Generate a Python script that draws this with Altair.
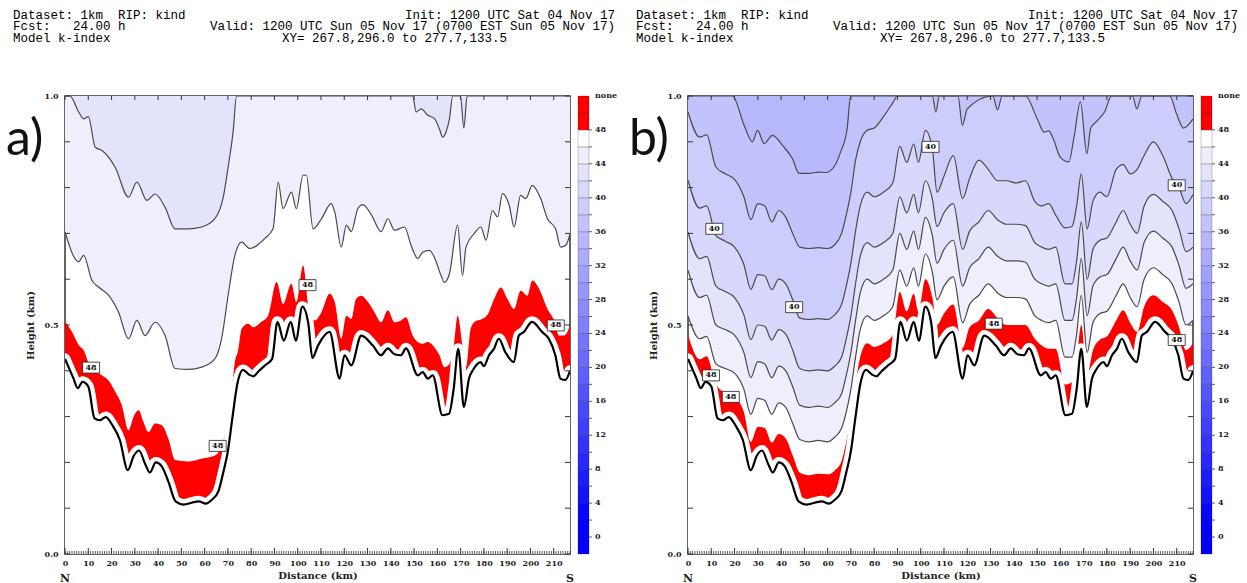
import altair as alt
import pandas as pd

# ---------------- data ----------------
# terrain height (km) along the cross-section (shared by both panels)
TER_KM = [0, 3.5, 5.5, 7.5, 10, 12.7, 15, 17.5, 20.5, 23.5, 27, 29.5, 31.8, 34.5, 36.5, 39, 41.5, 44.5, 47.5, 51,
          54.5, 57.5, 60.5, 63, 66, 68, 70, 72, 74, 76.5, 79, 81, 83, 86, 89, 91.3, 94, 97, 99.2, 102,
          104.5, 106.3, 108.7, 113.7, 118, 120.1, 123, 127.3, 132.3, 135.8, 138.7, 141.6, 144.4, 146.5, 151.6, 153.7, 155.9, 158, 162.2, 165,
          167, 169, 171.4, 173.6, 175.7, 178.6, 180, 182.2, 184.3, 186.4, 189.3, 192.9, 195, 197.2, 200.7, 205, 207.9, 210.7, 212.9, 215, 217]
TER_H = [0.426, 0.385, 0.362, 0.376, 0.366, 0.296, 0.292, 0.299, 0.280, 0.250, 0.183, 0.214, 0.226, 0.196, 0.178, 0.200, 0.192, 0.157, 0.115, 0.108,
         0.112, 0.115, 0.110, 0.118, 0.138, 0.178, 0.225, 0.300, 0.370, 0.402, 0.392, 0.388, 0.398, 0.412, 0.426, 0.507, 0.466, 0.507, 0.466, 0.540,
         0.505, 0.428, 0.455, 0.485, 0.383, 0.434, 0.412, 0.477, 0.455, 0.434, 0.449, 0.436, 0.434, 0.449, 0.390, 0.397, 0.383, 0.390, 0.303, 0.306,
         0.360, 0.448, 0.321, 0.383, 0.405, 0.419, 0.410, 0.434, 0.448, 0.470, 0.440, 0.419, 0.477, 0.485, 0.507, 0.485, 0.470, 0.434, 0.383, 0.380, 0.400]

# panel a: k-index 48 contour (top of the red band)
A48_KM = [0, 3, 6, 8, 10.7, 13, 15.9, 18.7, 21.6, 24.4, 27.3, 29.5, 31.6, 33.7, 35.9, 38.7, 41.6, 44.4, 47.3, 53,
          58.7, 64.4, 68.7, 70.9, 73, 74.4, 75.9, 78.7, 81, 84.4, 87.3, 90.9, 93.7, 97.3, 99.4, 102.3, 105.2, 107.3, 110.2, 113.7,
          115.9, 118.7, 120.9, 123, 125.1, 127.3, 130.2, 133, 135.9, 138.7, 141.6, 144.4, 146.5, 149.4, 151.6, 153.7, 155.9, 158, 160.9, 163,
          165.2, 167.3, 168.7, 170.8, 172.3, 174.4, 176.6, 178.7, 181.6, 184.4, 187.3, 190.1, 193, 195.8, 198.7, 200.8, 203.7, 207.3, 210.2, 212.3,
          214.5, 217]
A48_H = [0.508, 0.485, 0.455, 0.445, 0.41, 0.40, 0.39, 0.379, 0.354, 0.325, 0.27, 0.30, 0.314, 0.288, 0.266, 0.285, 0.281, 0.252, 0.205, 0.202,
         0.208, 0.215, 0.259, 0.318, 0.419, 0.445, 0.492, 0.503, 0.495, 0.507, 0.521, 0.594, 0.546, 0.59, 0.55, 0.63, 0.52, 0.51, 0.528, 0.568,
         0.55, 0.47, 0.52, 0.513, 0.557, 0.564, 0.55, 0.528, 0.506, 0.532, 0.506, 0.51, 0.517, 0.477, 0.463, 0.459, 0.463, 0.456, 0.434, 0.408,
         0.415, 0.463, 0.52, 0.456, 0.408, 0.494, 0.509, 0.512, 0.523, 0.557, 0.582, 0.557, 0.535, 0.575, 0.564, 0.597, 0.579, 0.535, 0.51, 0.477,
         0.477, 0.499]
# panel a: 46 contour
A46_KM = [0, 5.9, 8, 11.6, 14.4, 18.7, 23, 27.3, 30.9, 34.4, 38.7, 43, 47.3, 53, 58.7, 64.4, 67.3, 70.1, 73, 75.9,
          79.4, 85.9, 89.4, 91.6, 93.7, 97.3, 99.4, 102.3, 103.7, 106.6, 110.2, 114.4, 116, 118.7, 120.9, 123, 125.9, 128, 131.6, 135.9,
          138.7, 141.6, 145.9, 148.7, 151.6, 153.7, 156.6, 158.7, 161.6, 163, 165.2, 168.7, 170.8, 172.3, 175.9, 178.7, 180.9, 183.7, 185.9, 188,
          190.9, 193, 195.8, 198, 200.8, 204.4, 207.3, 210.8, 213, 215.2, 217]
A46_H = [0.703, 0.638, 0.652, 0.597, 0.583, 0.565, 0.528, 0.470, 0.510, 0.477, 0.506, 0.477, 0.405, 0.403, 0.408, 0.426, 0.470, 0.565, 0.652, 0.681,
         0.667, 0.689, 0.710, 0.812, 0.754, 0.790, 0.754, 0.827, 0.827, 0.710, 0.732, 0.765, 0.745, 0.670, 0.718, 0.704, 0.755, 0.763, 0.741, 0.704,
         0.732, 0.707, 0.714, 0.674, 0.645, 0.659, 0.663, 0.648, 0.608, 0.593, 0.612, 0.718, 0.608, 0.670, 0.700, 0.714, 0.685, 0.750, 0.736, 0.787,
         0.761, 0.714, 0.783, 0.776, 0.805, 0.776, 0.732, 0.710, 0.670, 0.674, 0.699]
# panel a: 44 contour (1.0 where it leaves the section top)
A44_KM = [0, 2.1, 5.9, 8, 10, 13, 15.9, 21.6, 27.3, 30.9, 35.2, 38.7, 43, 47.3, 53, 58.7, 64.4, 68, 70.1, 72.3,
          73.7, 149.4, 150.9, 153, 155.9, 158.7, 160.9, 162.3, 163.7, 165.2, 166.6, 169.9, 171.4, 172.8, 217]
A44_H = [1.0, 1.0, 0.965, 0.950, 0.955, 0.888, 0.881, 0.844, 0.779, 0.812, 0.772, 0.786, 0.757, 0.710, 0.710, 0.714, 0.732, 0.779, 0.845, 0.925,
         1.0, 1.0, 0.965, 0.972, 0.958, 0.951, 0.928, 0.910, 0.921, 0.95, 1.0, 1.0, 0.93, 1.0, 1.0]

# panel b contours on a common distance grid
B_KM = [0, 5, 8, 12, 16, 20, 24, 27, 30, 33, 36, 39, 42, 45, 48, 52, 56, 60, 63, 66,
        68, 70, 72, 74, 77, 80, 84, 88, 91, 94, 97, 99, 102, 105, 107, 110, 114, 118, 121, 125,
        129, 133, 137, 141, 145, 149, 152, 155, 158, 162, 165, 167, 169, 171.5, 174, 177, 180, 184, 187, 190,
        193, 196, 200, 204, 208, 211, 214, 217]
B48_H = [0.478, 0.425, 0.432, 0.37, 0.352, 0.342, 0.31, 0.245, 0.278, 0.275, 0.243, 0.262, 0.252, 0.215, 0.178, 0.172, 0.175, 0.174, 0.182, 0.203,
         0.245, 0.295, 0.37, 0.43, 0.46, 0.452, 0.46, 0.478, 0.572, 0.53, 0.568, 0.53, 0.6, 0.56, 0.5, 0.525, 0.545, 0.45, 0.495, 0.51,
         0.535, 0.515, 0.5, 0.5, 0.5, 0.47, 0.455, 0.448, 0.448, 0.37, 0.375, 0.425, 0.5, 0.39, 0.445, 0.468, 0.475, 0.51, 0.532, 0.505,
         0.485, 0.54, 0.565, 0.55, 0.532, 0.495, 0.445, 0.46]
B46_H = [0.52, 0.47, 0.475, 0.415, 0.405, 0.395, 0.36, 0.305, 0.34, 0.335, 0.305, 0.33, 0.32, 0.285, 0.25, 0.245, 0.248, 0.245, 0.255, 0.275,
         0.31, 0.36, 0.43, 0.49, 0.52, 0.51, 0.52, 0.54, 0.62, 0.585, 0.625, 0.585, 0.655, 0.615, 0.555, 0.585, 0.605, 0.505, 0.545, 0.565,
         0.59, 0.57, 0.56, 0.56, 0.557, 0.52, 0.51, 0.505, 0.51, 0.43, 0.43, 0.48, 0.565, 0.44, 0.505, 0.525, 0.53, 0.565, 0.59, 0.56,
         0.54, 0.6, 0.625, 0.61, 0.59, 0.55, 0.5, 0.51]
B44_H = [0.62, 0.56, 0.565, 0.5, 0.49, 0.478, 0.44, 0.385, 0.42, 0.415, 0.385, 0.41, 0.4, 0.365, 0.325, 0.32, 0.323, 0.32, 0.33, 0.35,
         0.39, 0.44, 0.51, 0.57, 0.6, 0.59, 0.6, 0.62, 0.7, 0.665, 0.705, 0.665, 0.735, 0.695, 0.635, 0.665, 0.685, 0.585, 0.625, 0.645,
         0.67, 0.65, 0.64, 0.64, 0.637, 0.6, 0.59, 0.585, 0.59, 0.51, 0.51, 0.56, 0.645, 0.52, 0.585, 0.605, 0.61, 0.645, 0.67, 0.64,
         0.62, 0.68, 0.705, 0.69, 0.67, 0.63, 0.58, 0.59]
B42_H = [0.703, 0.645, 0.65, 0.585, 0.573, 0.56, 0.522, 0.468, 0.5, 0.497, 0.467, 0.49, 0.48, 0.445, 0.405, 0.4, 0.402, 0.4, 0.41, 0.43,
         0.47, 0.52, 0.59, 0.65, 0.68, 0.67, 0.68, 0.7, 0.78, 0.745, 0.785, 0.745, 0.815, 0.775, 0.715, 0.745, 0.765, 0.665, 0.705, 0.725,
         0.75, 0.73, 0.72, 0.72, 0.717, 0.68, 0.67, 0.665, 0.67, 0.59, 0.59, 0.64, 0.725, 0.6, 0.665, 0.685, 0.69, 0.725, 0.75, 0.72,
         0.7, 0.76, 0.785, 0.77, 0.75, 0.71, 0.66, 0.67]
B40_H = [0.816, 0.755, 0.76, 0.695, 0.683, 0.67, 0.632, 0.578, 0.61, 0.607, 0.577, 0.6, 0.59, 0.555, 0.515, 0.512, 0.514, 0.512, 0.522, 0.545,
         0.585, 0.635, 0.705, 0.76, 0.79, 0.78, 0.79, 0.81, 0.89, 0.855, 0.895, 0.855, 0.925, 0.885, 0.79, 0.825, 0.87, 0.776, 0.82, 0.86,
         0.84, 0.815, 0.815, 0.81, 0.815, 0.77, 0.76, 0.765, 0.74, 0.712, 0.715, 0.76, 0.83, 0.71, 0.77, 0.79, 0.78, 0.84, 0.85, 0.83,
         0.84, 0.87, 0.9, 0.87, 0.82, 0.8, 0.765, 0.785]
B38_KM = [0, 5, 8, 12, 16, 20, 24, 27, 30, 33, 36, 39, 42, 45, 48, 52, 56, 60, 63, 66,
          68, 70, 72, 74, 77, 80, 84, 88, 90, 105, 106.5, 108, 116, 117.9, 120, 131, 133, 135, 145, 150,
          153, 155, 157, 160, 163.6, 166, 168.6, 171.4, 173, 176, 179, 182, 191, 192.9, 195, 207, 210, 212.9, 215, 217]
B38_H = [0.965, 0.91, 0.915, 0.845, 0.83, 0.818, 0.78, 0.73, 0.765, 0.76, 0.725, 0.75, 0.735, 0.7, 0.67, 0.667, 0.669, 0.667, 0.675, 0.7,
         0.74, 0.79, 0.86, 0.9, 0.925, 0.93, 0.955, 0.985, 1.0, 1.0, 0.965, 1.0, 1.0, 0.936, 0.972, 1.0, 0.97, 1.0, 1.0, 0.951,
         0.921, 0.924, 0.906, 0.866, 0.856, 0.914, 0.987, 0.874, 0.929, 0.947, 0.965, 1.0, 1.0, 0.972, 1.0, 1.0, 0.96, 0.93, 0.937, 0.95]
B36_KM = [0, 19.1, 24.1, 27.7, 29.9, 32.7, 36.3, 40.6, 44.9, 47.7, 52, 56.3, 59.1, 62.7, 65.6, 68.4, 69.9, 217]
B36_H = [1.0, 1.0, 0.936, 0.900, 0.925, 0.896, 0.914, 0.892, 0.863, 0.831, 0.831, 0.834, 0.833, 0.845, 0.878, 0.929, 1.0, 1.0]

# contour label boxes
A_LAB_KM = [11.2, 65.6, 104.2, 210.9]
A_LAB_H = [0.407, 0.236, 0.587, 0.499]
A_LAB_T = ["48", "48", "48", "48"]
B_LAB_KM = [11.3, 45.6, 104.2, 210.0, 9.9, 18.4, 131.4, 210.0]
B_LAB_H = [0.710, 0.539, 0.889, 0.805, 0.390, 0.343, 0.503, 0.467]
B_LAB_T = ["40", "40", "40", "40", "48", "48", "48", "48"]

# colour bar
CB_LOW = list(range(-2, 52, 2))          # lower bound of each colour box
CB_LABELS = list(range(0, 49, 4))
X_TICK_LABELS = list(range(0, 211, 10))
Y_TICK_LABELS = [0.0, 0.5, 1.0]
X_MINOR = list(range(0, 218, 1))
X_MAJOR = list(range(0, 218, 10))
Y_MINOR = [i / 10 for i in range(0, 11)]

NB = "\u00a0"
HEAD_L = ["Dataset: 1km" + NB * 2 + "RIP: kind", "Fcst:" + NB * 3 + "24.00 h", NB + "Model k-index"]
HEAD_INIT = "Init: 1200 UTC Sat 04 Nov 17"
HEAD_VALID = "Valid: 1200 UTC Sun 05 Nov 17 (0700 EST Sun 05 Nov 17)"
HEAD_XY = "XY= 267.8,296.0 to 277.7,133.5"

# ---------------- styling ----------------
W, H = 505, 458
SERIF = "DejaVu Serif"
MONO = "Liberation Mono"
INTERP = "monotone"


def box_color(v):
    if v >= 48:
        return "#ff0000"
    if v >= 46:
        return "#ffffff"
    c = int(round(max(0.0, 238 - (44 - v) * 5.5)))
    return f"#{c:02x}{c:02x}fc"


X = alt.X("km:Q", scale=alt.Scale(domain=[0, 217], nice=False, zero=False),
          axis=alt.Axis(values=X_TICK_LABELS, ticks=False, domain=False, grid=False, labelFlush=False,
                        labelOverlap=False, labelFont=SERIF, labelFontSize=8, labelFontWeight="bold",
                        labelColor="#222", labelPadding=5, title="Distance (km)", titleFont=SERIF,
                        titleFontSize=10, titleFontWeight="bold", titleColor="#222", titlePadding=3))
Y = alt.Y("h:Q", scale=alt.Scale(domain=[0, 1], nice=False, zero=False), stack=False,
          axis=alt.Axis(values=Y_TICK_LABELS, format=".1f", ticks=False, domain=False, grid=False,
                        labelFlush=False, labelFont=SERIF, labelFontSize=8, labelFontWeight="bold",
                        labelColor="#222", labelPadding=7, title="Height (km)", titleFont=SERIF,
                        titleFontSize=10, titleFontWeight="bold", titleColor="#222", titlePadding=9))


def df(km, h):
    return pd.DataFrame({"km": km, "h": h})


def fill_above(km, h, col):
    return alt.Chart(df(km, h)).mark_area(color=col, clip=True, interpolate=INTERP).encode(
        x=X, y=Y, y2=alt.datum(1.0))


def contour_line(km, h):
    return alt.Chart(df(km, h)).mark_line(color="#4a4a4a", strokeWidth=1.2, clip=True,
                                          interpolate=INTERP).encode(x=X, y=Y)


def txt(s, x, y, **kw):
    return alt.Chart(pd.DataFrame({"t": [s]})).mark_text(**kw).encode(
        text="t:N", x=alt.value(x), y=alt.value(y))


def panel(letter, red_km, red_h, contours, lab_km, lab_h, lab_t, xy_x):
    layers = []
    # coloured bands: each contour paints the colour of the band above it
    for km, h, lev in contours:
        layers.append(fill_above(km, h, box_color(lev - 2)))
    # red band (k > 48) down to the ground, ground masked white
    layers.append(alt.Chart(df(red_km, red_h)).mark_area(color="#ff0000", clip=True, interpolate=INTERP)
                  .encode(x=X, y=Y, y2=alt.datum(0.0)))
    layers.append(alt.Chart(df(TER_KM, TER_H)).mark_area(color="white", clip=True, interpolate=INTERP)
                  .encode(x=X, y=Y, y2=alt.datum(0.0)))
    layers.append(alt.Chart(df(TER_KM, TER_H)).mark_line(color="white", strokeWidth=11, strokeJoin="round",
                                                          strokeCap="round", clip=True, interpolate=INTERP)
                  .encode(x=X, y=Y))
    for km, h, lev in contours:
        layers.append(contour_line(km, h))
    layers.append(alt.Chart(df(TER_KM, TER_H)).mark_line(color="black", strokeWidth=2.2, clip=True,
                                                          interpolate=INTERP).encode(x=X, y=Y))
    # inward ticks
    layers.append(alt.Chart(pd.DataFrame({"km": X_MINOR})).mark_rule(color="#333", strokeWidth=0.8)
                  .encode(x=X, y=alt.value(H), y2=alt.value(H - 3)))
    layers.append(alt.Chart(pd.DataFrame({"km": X_MAJOR})).mark_rule(color="#333", strokeWidth=1)
                  .encode(x=X, y=alt.value(H), y2=alt.value(H - 6)))
    layers.append(alt.Chart(pd.DataFrame({"km": X_MAJOR})).mark_rule(color="#333", strokeWidth=1)
                  .encode(x=X, y=alt.value(0), y2=alt.value(4)))
    layers.append(alt.Chart(pd.DataFrame({"h": Y_MINOR})).mark_rule(color="#333", strokeWidth=1)
                  .encode(y=Y, x=alt.value(0), x2=alt.value(5)))
    layers.append(alt.Chart(pd.DataFrame({"h": Y_MINOR})).mark_rule(color="#333", strokeWidth=1)
                  .encode(y=Y, x=alt.value(W), x2=alt.value(W - 5)))
    # contour labels
    ldf = pd.DataFrame({"km": lab_km, "h": lab_h, "t": lab_t})
    layers.append(alt.Chart(ldf).mark_rect(width=17, height=11, fill="white", stroke="#222", strokeWidth=0.8)
                  .encode(x=X, y=Y))
    layers.append(alt.Chart(ldf).mark_text(font=SERIF, fontSize=8, fontWeight="bold", color="#111",
                                           baseline="middle").encode(x=X, y=Y, text="t:N"))
    # N / S
    layers.append(alt.Chart(pd.DataFrame({"km": [0, 217], "t": ["N", "S"]}))
                  .mark_text(font=SERIF, fontSize=11, fontWeight="bold", color="#222", baseline="middle")
                  .encode(x=X, text="t:N", y=alt.value(H + 25)))
    # header
    hk = dict(font=MONO, fontSize=12.5, color="#000", baseline="alphabetic")
    layers.append(txt(HEAD_L[0], -52, -77.5, align="left", **hk))
    layers.append(txt(HEAD_L[1], -52, -65.7, align="left", **hk))
    layers.append(txt(HEAD_L[2], -52, -53.9, align="left", **hk))
    layers.append(txt(HEAD_INIT, 550, -77.5, align="right", **hk))
    layers.append(txt(HEAD_VALID, 550, -65.7, align="right", **hk))
    layers.append(txt(HEAD_XY, xy_x, -53.9, align="left", **hk))
    # panel letter
    layers.append(txt(letter, -59, 44, align="left", font="Lato", fontSize=50, color="#111"))
    return alt.layer(*layers).properties(width=W, height=H,
                                          view=alt.ViewBackground(stroke="#333", strokeWidth=1.5))


def colorbar(width):
    cdf = pd.DataFrame({"v": CB_LOW, "v2": [v + 2 for v in CB_LOW], "col": [box_color(v) for v in CB_LOW]})
    YC = alt.Y("v:Q", scale=alt.Scale(domain=[-2, 52], nice=False, zero=False), axis=None)
    rects = alt.Chart(cdf).mark_rect(stroke="#000", strokeWidth=0.6, strokeOpacity=0.35).encode(
        x=alt.value(0), x2=alt.value(11), y=YC, y2="v2:Q", color=alt.Color("col:N", scale=None))
    tdf = pd.DataFrame({"v": CB_LABELS + [52], "t": [str(v) for v in CB_LABELS] + ["none"]})
    ticks = alt.Chart(pd.DataFrame({"v": list(range(0, 50, 2))})).mark_rule(color="#333", strokeWidth=0.8).encode(
        y=YC, x=alt.value(11), x2=alt.value(14))
    labels = alt.Chart(tdf).mark_text(font=SERIF, fontSize=8, fontWeight="bold", color="#222", align="left",
                                      baseline="middle").encode(y=YC, x=alt.value(17), text="t:N")
    return alt.layer(rects, ticks, labels).properties(width=width, height=H,
                                                      view=alt.ViewBackground(stroke="transparent"))


panel_a = panel("a)", A48_KM, A48_H,
                [(A46_KM, A46_H, 46), (A44_KM, A44_H, 44)],
                A_LAB_KM, A_LAB_H, A_LAB_T, 217)
panel_b = panel("b)", B_KM, B48_H,
                [(B_KM, B46_H, 46), (B_KM, B44_H, 44), (B_KM, B42_H, 42), (B_KM, B40_H, 40),
                 (B38_KM, B38_H, 38), (B36_KM, B36_H, 36)],
                B_LAB_KM, B_LAB_H, B_LAB_T, 192)

chart = alt.hconcat(panel_a, colorbar(102), panel_b, colorbar(40), spacing=8, bounds="flush").properties(
    padding={"left": 5, "top": 7, "right": 0, "bottom": 0}, background="white")

chart.save("out.html", embed_options={"renderer": "svg", "actions": False})
